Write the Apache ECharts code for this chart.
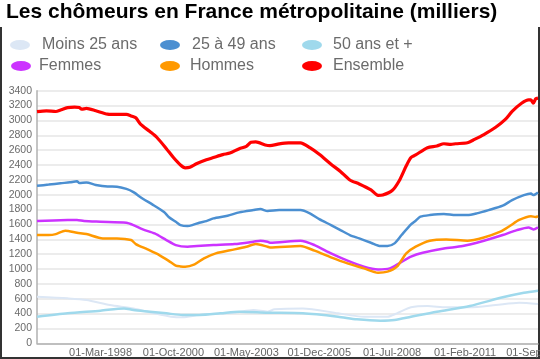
<!DOCTYPE html>
<html><head><meta charset="utf-8">
<script src="https://cdn.jsdelivr.net/npm/echarts@6/dist/echarts.min.js"></script>
<style>html,body{margin:0;padding:0;background:#fff}#c{width:540px;height:359px}</style>
</head><body><div id="c"></div>
<script>
// Month categories: Dec-1995 .. Sep-2013 (index 0..213)
var startYear = 1995, startMonth = 11, monthCount = 214;
var monthNames = ['Jan','Feb','Mar','Apr','May','Jun','Jul','Aug','Sep','Oct','Nov','Dec'];
var categories = [];
for (var i = 0; i < monthCount; i++) {
  var m = (startMonth + i) % 12, y = startYear + Math.floor((startMonth + i) / 12);
  categories.push('01-' + monthNames[m] + '-' + y);
}
var tickLabels = ['01-Mar-1998','01-Oct-2000','01-May-2003','01-Dec-2005','01-Jul-2008','01-Feb-2011','01-Sep-2013'];
var yTicks = [0,200,400,600,800,1000,1200,1400,1600,1800,2000,2200,2400,2600,2800,3000,3200,3400];

var seriesNames = ['Moins 25 ans','25 à 49 ans','50 ans et +','Femmes','Hommes','Ensemble'];

// [monthIndex, milliers]
var moins25 = [[0,627],[13,605],[21,583],[31,515],[41,470],[50,403],[57,358],[62,349],[69,381],[84,412],[92,448],[98,426],[101,457],[113,470],[128,403],[139,358],[149,358],[153,403],[159,484],[166,502],[174,484],[184,484],[195,515],[205,547],[213,529]];
var age25_49 = [[0,2120],[5,2136],[10,2154],[14,2167],[17,2180],[18,2158],[21,2165],[25,2132],[30,2110],[34,2108],[38,2078],[41,2034],[45,1945],[49,1870],[54,1768],[56,1701],[59,1635],[61,1591],[64,1578],[66,1591],[69,1623],[72,1645],[75,1681],[81,1717],[86,1762],[92,1793],[95,1806],[98,1780],[103,1793],[112,1793],[116,1749],[120,1672],[125,1591],[129,1524],[133,1457],[137,1412],[142,1354],[146,1309],[149,1309],[152,1345],[155,1457],[159,1600],[161,1650],[163,1704],[167,1726],[173,1740],[178,1726],[183,1726],[187,1749],[192,1793],[198,1852],[202,1928],[207,1995],[210,2017],[211,1995],[213,2030]];
var age50plus = [[0,358],[13,403],[27,439],[37,470],[41,448],[48,426],[55,403],[62,381],[69,381],[78,403],[86,426],[98,412],[113,403],[128,358],[136,323],[146,305],[152,314],[159,358],[170,426],[184,502],[198,619],[207,681],[213,708]];
var femmes = [[0,1645],[13,1658],[17,1660],[20,1645],[27,1636],[38,1623],[41,1591],[45,1533],[50,1479],[55,1390],[59,1322],[64,1300],[68,1309],[75,1322],[84,1336],[92,1367],[95,1381],[98,1367],[99,1354],[112,1381],[118,1322],[125,1210],[132,1112],[139,1031],[145,995],[150,1009],[154,1076],[159,1166],[164,1219],[173,1277],[181,1309],[190,1381],[198,1457],[204,1524],[209,1560],[211,1533],[213,1560]];
var hommes = [[0,1457],[5,1457],[8,1470],[12,1515],[17,1488],[21,1470],[28,1412],[34,1412],[40,1390],[42,1336],[47,1264],[52,1188],[56,1110],[59,1045],[61,1035],[63,1031],[67,1063],[71,1143],[76,1210],[84,1264],[89,1300],[93,1336],[98,1300],[99,1291],[112,1309],[118,1247],[125,1157],[132,1076],[139,1009],[145,950],[149,964],[153,1031],[157,1210],[161,1300],[167,1381],[174,1398],[183,1381],[190,1425],[197,1502],[201,1578],[205,1660],[210,1710],[212,1700],[213,1710]];
var ensemble = [[0,3118],[4,3128],[8,3120],[10,3140],[13,3172],[16,3180],[18,3175],[19,3150],[21,3162],[25,3130],[30,3085],[34,3080],[38,3080],[40,3060],[42,3035],[44,2950],[48,2850],[51,2770],[55,2620],[58,2500],[61,2400],[63,2362],[65,2370],[68,2420],[72,2470],[75,2500],[79,2540],[82,2560],[86,2620],[89,2650],[91,2705],[93,2710],[97,2670],[99,2660],[103,2685],[107,2698],[112,2698],[116,2633],[120,2544],[125,2411],[129,2313],[133,2198],[137,2145],[142,2065],[145,1990],[147,1995],[151,2056],[154,2189],[157,2389],[159,2500],[161,2535],[166,2633],[170,2655],[173,2686],[176,2677],[178,2686],[183,2699],[186,2744],[190,2810],[195,2908],[199,3010],[202,3121],[206,3231],[209,3276],[210,3276],[211,3231],[212,3290],[213,3300]];

var seriesData = [moins25, age25_49, age50plus, femmes, hommes, ensemble];
var colors = ['#dce7f5','#4b8fd1','#9fd9ec','#cc33ff','#ff9900','#ff0000'];
var widths = [2, 2.5, 2.5, 2.5, 2.5, 3.2];

var legendPos = [[10,37],[160,37],[302,37],[11,58],[160,58],[302,58]];
var textPad = [7, 7, 6, 3, 5, 6];
var ellipse = 'path://M0,5A10,5 0 1,1 20,5A10,5 0 1,1 0,5Z';
var legends = seriesNames.map(function (n, i) {
  return {
    data: [n], left: legendPos[i][0], top: legendPos[i][1], icon: ellipse,
    itemWidth: 20, itemHeight: 10, padding: 0, selectedMode: false,
    textStyle: { color: '#6b6b6b', fontSize: 16, fontFamily: 'Liberation Sans, Arial, sans-serif', padding: [0,0,0,textPad[i]] }
  };
});

var chart = echarts.init(document.getElementById('c'), null, { renderer: 'canvas' });
chart.setOption({
  animation: false,
  backgroundColor: '#fff',
  color: colors,
  title: {
    text: 'Les chômeurs en France métropolitaine (milliers)', left: 6, top: 2, padding: 0,
    textStyle: { fontSize: 21, fontWeight: 'bold', color: '#000', fontFamily: 'Liberation Sans, Arial, sans-serif' }
  },
  legend: legends,
  grid: { left: 37, right: 2, top: 90.7, bottom: 15.7, containLabel: false, outerBoundsMode: 'none' },
  xAxis: {
    type: 'category', data: categories, boundaryGap: false,
    axisLine: { show: true, lineStyle: { color: '#b0b0b0', width: 1.5 } },
    axisTick: { show: false },
    axisLabel: {
      color: '#666', fontSize: 11, margin: 4, fontFamily: 'Liberation Sans, Arial, sans-serif',
      hideOverlap: false,
      interval: function (idx, val) { return tickLabels.indexOf(val) >= 0; }
    },
    splitLine: { show: false }
  },
  yAxis: {
    type: 'value', min: yTicks[0], max: yTicks[yTicks.length - 1], interval: yTicks[1] - yTicks[0],
    axisLine: { show: true, lineStyle: { color: '#b0b0b0', width: 1.5 } },
    axisTick: { show: false },
    axisLabel: { color: '#6b6b6b', fontSize: 10.5, margin: 5, fontFamily: 'Liberation Sans, Arial, sans-serif',
      formatter: function (v) { return String(v); } },
    splitLine: { show: true, lineStyle: { color: '#e6e6e6', width: 1.5 } }
  },
  series: seriesNames.map(function (n, i) {
    return {
      name: n, type: 'line', data: seriesData[i], showSymbol: false, smooth: 0.25,
      lineStyle: { color: colors[i], width: widths[i] }, itemStyle: { color: colors[i] }, z: 2 + i
    };
  }),
  graphic: [
    { type: 'line', shape: { x1: 1, y1: 27, x2: 1, y2: 359 }, style: { stroke: '#333', lineWidth: 2 } },
    { type: 'line', shape: { x1: 0, y1: 358, x2: 540, y2: 358 }, style: { stroke: '#333', lineWidth: 2 } },
    { type: 'line', shape: { x1: 539, y1: 27, x2: 539, y2: 359 }, style: { stroke: '#333', lineWidth: 2 } }
  ]
});
</script>
</body></html>
